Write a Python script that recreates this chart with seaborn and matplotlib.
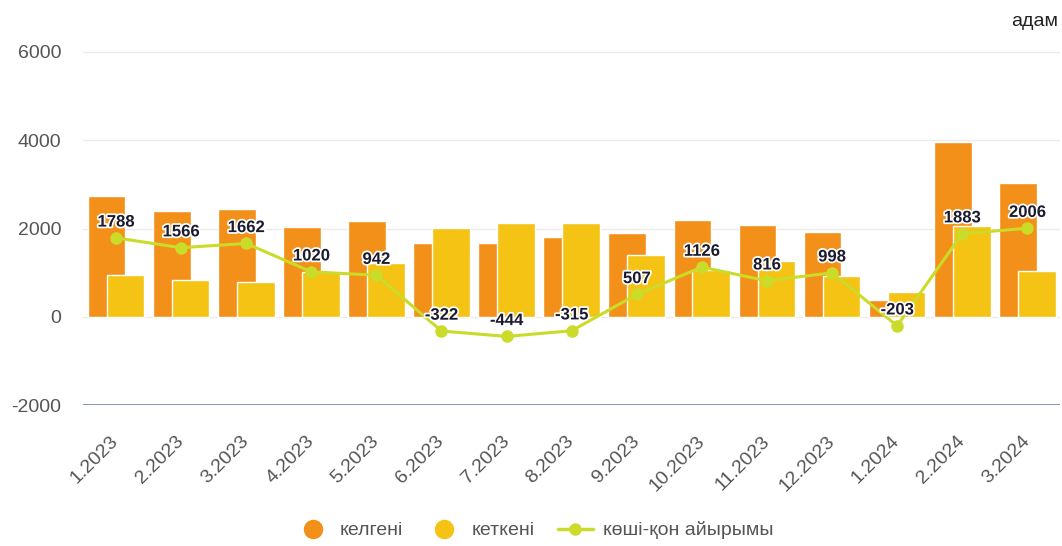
import matplotlib
matplotlib.use("Agg")
import matplotlib.pyplot as plt
import matplotlib.patheffects as pe
from matplotlib.lines import Line2D
import numpy as np
import pandas as pd
import seaborn as sns

MONTHS = ["1.2023", "2.2023", "3.2023", "4.2023", "5.2023", "6.2023", "7.2023", "8.2023",
          "9.2023", "10.2023", "11.2023", "12.2023", "1.2024", "2.2024", "3.2024"]
ARRIVED = [2740, 2400, 2450, 2030, 2170, 1680, 1680, 1810, 1900, 2190, 2070, 1930, 370, 3950, 3040]
LEFT = [952, 834, 788, 1010, 1228, 2002, 2124, 2125, 1393, 1064, 1254, 932, 573, 2067, 1034]
NET = [1788, 1566, 1662, 1020, 942, -322, -444, -315, 507, 1126, 816, 998, -203, 1883, 2006]

ORANGE = "#F39019"
YELLOW = "#F4C314"
GREEN = "#CADB2A"
GREY = "#555555"

sns.set_theme(style="white")
plt.rcParams["font.family"] = ["Liberation Sans", "DejaVu Sans"]

idx = np.arange(len(MONTHS))
df = pd.DataFrame({"month": MONTHS, "pos": idx, "arrived": ARRIVED, "left": LEFT, "net": NET})

fig = plt.figure(figsize=(10.62, 5.46), dpi=100)
ax = fig.add_axes([0.0786, 0.258, 0.9194, 0.655])

sns.barplot(x=df["pos"] - 0.145, y=df["arrived"], native_scale=True, width=0.58,
            color=ORANGE, saturation=1, edgecolor="white", linewidth=1, ax=ax, zorder=2)
sns.barplot(x=df["pos"] + 0.145, y=df["left"], native_scale=True, width=0.58,
            color=YELLOW, saturation=1, edgecolor="white", linewidth=1, ax=ax, zorder=3)
sns.lineplot(data=df, x="pos", y="net", color=GREEN, linewidth=2.2, marker="o",
             markersize=9, markeredgewidth=0, ax=ax, zorder=4)

for x, v in zip(idx, NET):
    ax.annotate(str(v), (x, v), xytext=(0, 6), textcoords="offset points",
                ha="center", va="bottom", fontsize=12, fontweight="bold", color="#1b1b2f",
                path_effects=[pe.withStroke(linewidth=2.5, foreground="white")], zorder=5)

ax.set_xlim(-0.5, len(MONTHS) - 0.5)
ax.set_ylim(-2000, 6100)
ax.set_yticks([-2000, 0, 2000, 4000, 6000])
ax.set_yticklabels(["-2000", "0", "2000", "4000", "6000"], fontsize=14, color=GREY)
ax.tick_params(axis="y", length=0, pad=16)
ax.set_xticks(idx)
ax.set_xticklabels(MONTHS, rotation=45, ha="right", va="center", rotation_mode="anchor",
                   fontsize=14, color=GREY)
ax.tick_params(axis="x", length=0, pad=24)
ax.set_xlabel("")
ax.set_ylabel("")

for y in [0, 2000, 4000, 6000]:
    ax.axhline(y, color="#ebebeb", linewidth=1, zorder=0)
ax.axhline(-2000, color="#7086a8", linewidth=1.2, zorder=1)
for s in ax.spines.values():
    s.set_visible(False)

fig.text(0.996, 0.96, "адам", ha="right", va="center", fontsize=14, color="#222222")

handles = [
    Line2D([], [], linestyle="none", marker="o", markersize=13, color=ORANGE),
    Line2D([], [], linestyle="none", marker="o", markersize=13, color=YELLOW),
    Line2D([], [], color=GREEN, linewidth=2.5, marker="o", markersize=8),
]
fig.legend(handles, ["келгені", "кеткені", "көші-қон айырымы"], loc="lower center",
           bbox_to_anchor=(0.503, -0.02), ncol=3, frameon=False, fontsize=14,
           labelcolor=GREY, handlelength=1.8, columnspacing=1.2, handletextpad=0.5)

fig.savefig("out.png", dpi=100)
